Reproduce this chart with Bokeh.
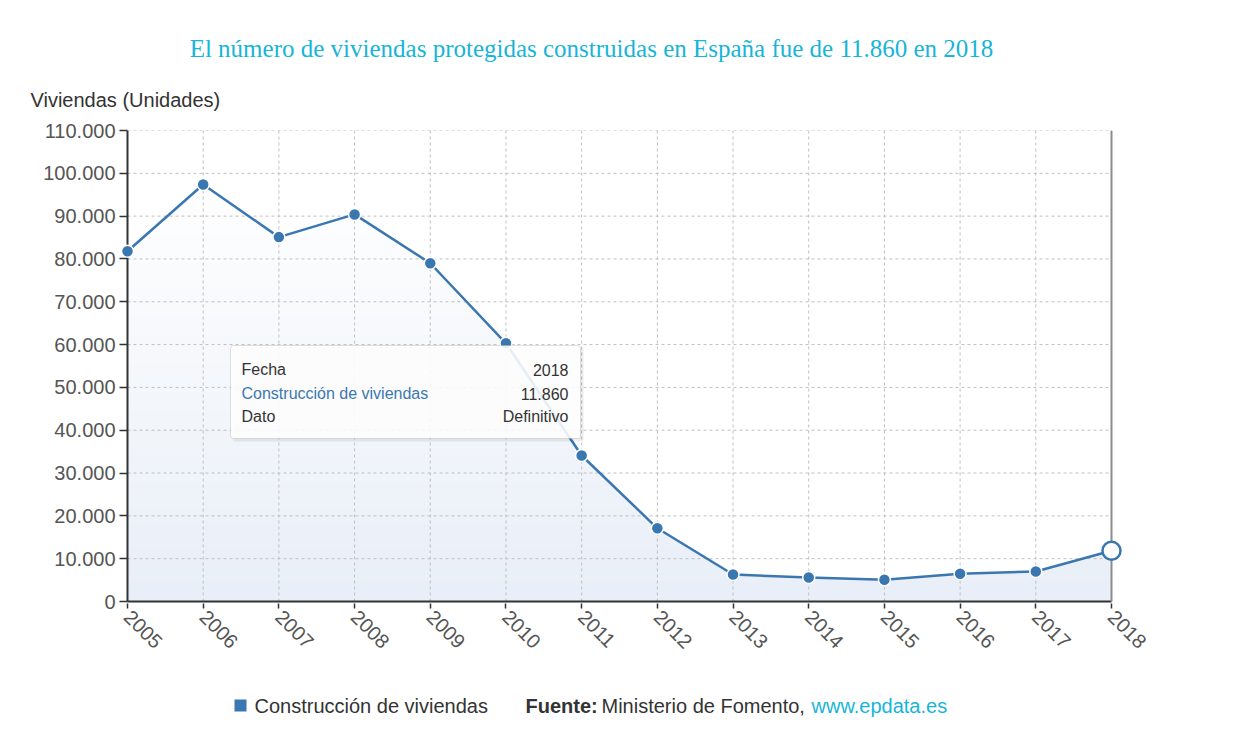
import numpy as np
from bokeh.plotting import figure
from bokeh.layouts import column
from bokeh.models import Range1d, FixedTicker, Label, BoxAnnotation
from bokeh.embed import file_html
from bokeh.resources import INLINE

# --- data -------------------------------------------------------------
years = [2005, 2006, 2007, 2008, 2009, 2010, 2011, 2012, 2013, 2014, 2015, 2016, 2017, 2018]
viviendas = [81800, 97400, 85100, 90400, 79000, 60300, 34100, 17100, 6300, 5600, 5100, 6500, 7000, 11860]
y_ticks = [0, 10000, 20000, 30000, 40000, 50000, 60000, 70000, 80000, 90000, 100000, 110000]
y_tick_labels = ["0", "10.000", "20.000", "30.000", "40.000", "50.000", "60.000",
                 "70.000", "80.000", "90.000", "100.000", "110.000"]
series_name = "Construcción de viviendas"
status = "Definitivo"


def es_number(v):
    return f"{v:,}".replace(",", ".")


# --- page geometry (pixels) ------------------------------------------
W, H = 1236, 742
HEAD_H = 115                              # header strip: title + axis caption
FOOT_Y0 = 680                             # footer strip starts here
FL, FR, FT, FB = 119, 1122, 130, 603      # chart frame edges on the page
X0_PX, X1_PX = 127, 1111                  # first / last year
Y0_PX, YTOP_PX = 601, 130                 # 0 and top tick

px_per_year = (X1_PX - X0_PX) / (years[-1] - years[0])
px_per_unit = (Y0_PX - YTOP_PX) / y_ticks[-1]
x_start = years[0] - (X0_PX - FL) / px_per_year
x_end = years[-1] + (FR - X1_PX) / px_per_year
y_start = -(FB - Y0_PX) / px_per_unit
y_end = y_ticks[-1] + (YTOP_PX - FT) / px_per_unit


def at(px, py):
    """page pixel -> chart data coordinates"""
    return (x_start + (px - FL) / px_per_year, (Y0_PX - py) / px_per_unit)


BLUE = "#3a77b0"
CYAN = "#17b5d7"
FONT = "Liberation Sans"


def text_strip(y0, y1):
    """a plain text band whose data coordinates equal page pixels"""
    s = figure(width=W, height=y1 - y0, x_range=Range1d(0, W), y_range=Range1d(y1, y0),
               x_axis_type=None, y_axis_type=None, output_backend="svg", toolbar_location=None,
               min_border=0)
    s.frame_align = False
    s.outline_line_color = None
    s.grid.visible = False
    return s


# --- header ---------------------------------------------------------
head = text_strip(0, HEAD_H)
head.add_layout(Label(x=591, y=48, text=f"El número de viviendas protegidas construidas en España fue de "
                                        f"{es_number(viviendas[-1])} en {years[-1]}",
                      text_font="Liberation Serif", text_font_size="25px", text_color=CYAN,
                      text_align="center", text_baseline="middle"))
head.add_layout(Label(x=30, y=99, text="Viviendas (Unidades)", text_font=FONT, text_font_size="20px",
                      text_color="#333333", text_align="left", text_baseline="middle"))

# --- chart ----------------------------------------------------------
p = figure(width=W, height=FOOT_Y0 - HEAD_H, x_range=Range1d(x_start, x_end),
           y_range=Range1d(y_start, y_end), output_backend="svg", toolbar_location=None,
           min_border_left=FL, min_border_right=W - FR, min_border_top=FT - HEAD_H,
           min_border_bottom=FOOT_Y0 - FB)
p.frame_align = False
p.outline_line_color = None
p.grid.visible = False

p.yaxis.ticker = FixedTicker(ticks=y_ticks)
p.yaxis.major_label_overrides = {t: l for t, l in zip(y_ticks, y_tick_labels)}
p.xaxis.ticker = FixedTicker(ticks=years)
p.xaxis.major_label_overrides = {y: str(y) for y in years}
for ax in (p.xaxis[0], p.yaxis[0]):
    ax.axis_line_color = None
    ax.minor_tick_line_color = None
    ax.major_tick_line_color = "#333333"
    ax.major_tick_line_width = 1.5
    ax.major_label_text_font = FONT
    ax.major_label_text_font_size = "20px"
    ax.major_label_text_color = "#555555"
p.yaxis.major_tick_in = X0_PX - FL
p.yaxis.major_tick_out = 0
p.yaxis.major_label_standoff = 4
p.xaxis.major_tick_in = 0
p.xaxis.major_tick_out = 5
p.xaxis.major_label_standoff = 5
p.xaxis.major_label_orientation = -np.pi / 4

# gradient fill under the series
N = 256
t = np.linspace(0, 1, N)
img = np.empty((N, 1), dtype=np.uint32)
view = img.view(dtype=np.uint8).reshape((N, 1, 4))
view[:, 0, 0] = (233 + (255 - 233) * t).astype(np.uint8)
view[:, 0, 1] = (239 + (255 - 239) * t).astype(np.uint8)
view[:, 0, 2] = (248 + (255 - 248) * t).astype(np.uint8)
view[:, 0, 3] = 255
top = max(viviendas)
p.image_rgba(image=[img], x=years[0], y=0, dw=years[-1] - years[0], dh=top)
p.varea(x=years, y1=viviendas, y2=[top] * len(years), fill_color="white")

# dashed grid
p.segment(x0=[years[0]] * len(y_ticks), y0=y_ticks, x1=[years[-1]] * len(y_ticks), y1=y_ticks,
          line_color="#bfbfbf", line_width=1, line_dash="3 3")
p.segment(x0=years, y0=[0] * len(years), x1=years, y1=[y_ticks[-1]] * len(years),
          line_color="#bfbfbf", line_width=1, line_dash="3 3")

# axis lines and right border
p.segment(x0=[years[0]], y0=[0], x1=[years[0]], y1=[y_ticks[-1]], line_color="#333333", line_width=2)
p.segment(x0=[years[0]], y0=[0], x1=[years[-1]], y1=[0], line_color="#333333", line_width=2)
p.segment(x0=[years[-1]], y0=[0], x1=[years[-1]], y1=[y_ticks[-1]], line_color="#8c8c8c", line_width=2)

# series
p.line(years, viviendas, line_color=BLUE, line_width=2.5)
p.scatter(years[:-1], viviendas[:-1], size=12, fill_color=BLUE, line_color="white", line_width=1.5)
p.scatter(years[-1:], viviendas[-1:], size=18, fill_color="white", line_color=BLUE, line_width=2.5)

# tooltip for the latest year
l, tp = at(230, 345)
r, b = at(580, 438)
sl, stp = at(232, 347)
sr, sb = at(583, 441)
p.add_layout(BoxAnnotation(left=sl, right=sr, top=stp, bottom=sb, fill_color="black", fill_alpha=0.07,
                           line_color=None, border_radius=3))
p.add_layout(BoxAnnotation(left=l, right=r, top=tp, bottom=b, fill_color="white", fill_alpha=0.88,
                           line_color="#9a9a9a", line_width=1, border_radius=3))
rows = [("Fecha", str(years[-1]), "#333333"),
        (series_name, es_number(viviendas[-1]), BLUE),
        ("Dato", status, "#333333")]
for (left_txt, right_txt, col), py in zip(rows, [369, 393, 416]):
    x, y = at(241, py)
    p.add_layout(Label(x=x, y=y, text=left_txt, text_font=FONT, text_font_size="16px",
                       text_color=col, text_baseline="middle", text_align="left"))
    x, y = at(568, py)
    p.add_layout(Label(x=x, y=y, text=right_txt, text_font=FONT, text_font_size="16px",
                       text_color="#333333", text_baseline="middle", text_align="right"))

# --- footer: legend key and source ----------------------------------
foot = text_strip(FOOT_Y0, H)
foot.add_layout(BoxAnnotation(left=234, right=246, top=699, bottom=711, fill_color=BLUE,
                              fill_alpha=1, line_color=None))
footer = [(254, series_name, "#333333", "normal"),
          (525, "Fuente:", "#333333", "bold"),
          (601, "Ministerio de Fomento,", "#333333", "normal"),
          (811, "www.epdata.es", CYAN, "normal")]
for px, txt, col, style in footer:
    foot.add_layout(Label(x=px, y=705, text=txt, text_font=FONT, text_font_size="20px", text_color=col,
                          text_font_style=style, text_align="left", text_baseline="middle"))

page = column(head, p, foot, spacing=0)
open("out.html", "w").write(file_html(page, INLINE))
